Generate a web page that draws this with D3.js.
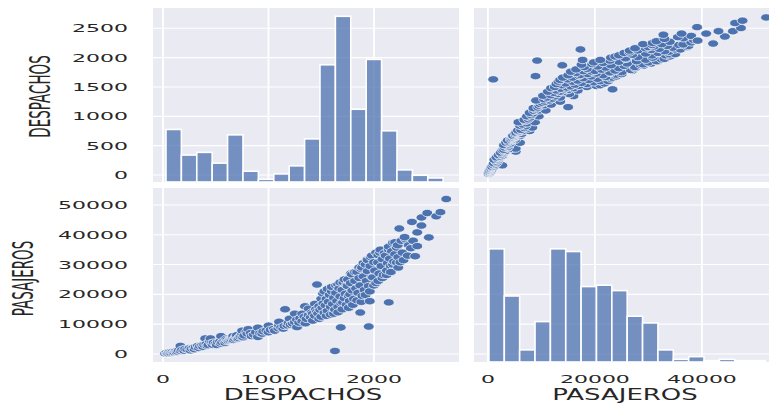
<!DOCTYPE html>
<html>
<head>
<meta charset="utf-8">
<script src="https://cdn.jsdelivr.net/npm/d3@7"></script>
<style>
  html, body { margin: 0; padding: 0; background: #ffffff; }
  svg { display: block; font-family: "DejaVu Sans", sans-serif; }
</style>
</head>
<body>
<svg id="chart" width="769" height="404"></svg>
<script>
// Variables of the pair grid
const variables = ["DESPACHOS", "PASAJEROS"];

// Tick labels
const despachosYTicks = [0, 500, 1000, 1500, 2000, 2500];
const despachosXTicks = [0, 1000, 2000];
const pasajerosYTicks = [0, 10000, 20000, 30000, 40000, 50000];
const pasajerosXTicks = [0, 20000, 40000];

// Histogram counts (18 equal-width bins each) and outer bin edges
const despachosCounts = [39, 20, 22, 14, 35, 8, 2, 6, 12, 32, 87, 123, 54, 91, 38, 9, 5, 3];
const despachosRange = [28, 2656];
const pasajerosCounts = [84, 49, 9, 30, 84, 82, 56, 57, 53, 34, 29, 9, 2, 4, 1, 2, 1, 1];
const pasajerosRange = [190, 51886];

// Observations: [DESPACHOS, PASAJEROS]
const vuelos = [
  [20,150],[35,300],[45,100],[50,200],[60,500],[70,250],[80,400],[90,700],[100,450],[110,600],
  [120,900],[130,650],[140,800],[150,1200],[165,2700],[170,1000],[180,1400],[200,1100],[210,1700],
  [230,1500],[250,1900],[260,1200],[270,1800],[290,2100],[300,1600],[310,2300],[330,2700],[340,2000],
  [350,2600],[370,2900],[380,2400],[390,3100],[400,5200],[410,3300],[420,2700],[430,3000],[445,4300],
  [450,5200],[460,3600],[470,3100],[480,3800],[500,3500],[510,3000],[520,4000],[540,4200],[550,3400],
  [550,6000],[560,3900],[580,4400],[590,3700],[600,4300],[600,5100],[610,4700],[620,4400],[630,4600],
  [640,4800],[650,5000],[660,5300],[665,6000],[670,4700],[680,5200],[690,5700],[700,5500],[700,6300],
  [710,5100],[720,5300],[730,5800],[740,6000],[750,6700],[750,7800],[760,5600],[770,6200],[790,7400],
  [800,6800],[808,8300],[830,7000],[840,6000],[860,6500],[880,7300],[900,5700],[900,8800],[920,7000],
  [940,6800],[950,7600],[980,7900],[1000,7300],[1000,9500],[1020,8100],[1050,8400],[1060,7800],
  [1093,8600],[1100,9600],[1100,10800],[1120,8900],[1140,8500],[1150,9400],[1157,15000],[1180,9600],
  [1190,10400],[1200,11800],[1210,9800],[1230,10200],[1250,10700],[1250,13500],[1270,9000],
  [1270,11500],[1290,10500],[1300,12000],[1320,11000],[1320,13500],[1340,12500],[1346,16000],
  [1350,10300],[1360,11800],[1380,13000],[1380,15200],[1400,12300],[1412,14000],[1420,13500],
  [1420,11200],[1440,12800],[1440,16800],[1450,15000],[1460,14200],[1460,23300],[1470,13600],
  [1480,16000],[1480,11800],[1490,14800],[1500,12500],[1500,18500],[1510,15500],[1517,20300],
  [1520,17000],[1530,13800],[1530,21000],[1540,16300],[1550,18500],[1550,12800],[1560,14500],
  [1560,21800],[1570,17500],[1580,19800],[1590,15800],[1590,13200],[1600,21000],[1600,22500],
  [1610,16800],[1620,18800],[1620,13500],[1630,1000],[1630,14900],[1640,20500],[1640,23000],
  [1650,17800],[1659,23300],[1660,15800],[1660,14000],[1670,22000],[1685,8900],[1680,19300],
  [1680,24000],[1690,17000],[1700,21500],[1700,15000],[1706,17300],[1710,24000],[1720,18700],
  [1720,25000],[1730,20200],[1740,16500],[1740,23000],[1750,22800],[1753,25000],[1760,19500],
  [1760,15500],[1770,17800],[1773,20000],[1780,23800],[1780,27000],[1790,26700],[1795,21300],
  [1800,16500],[1810,18500],[1820,24500],[1820,27500],[1830,22000],[1840,27500],[1840,18000],
  [1850,20500],[1860,25500],[1860,29000],[1870,13900],[1870,23000],[1880,28500],[1880,17500],
  [1886,29000],[1890,19500],[1900,26000],[1900,30500],[1910,21500],[1920,30000],[1920,19800],
  [1930,24500],[1934,31700],[1940,27800],[1940,31500],[1950,9200],[1950,22800],[1960,17700],
  [1960,21000],[1965,29500],[1970,32500],[1980,25800],[1980,33000],[1990,25700],[2000,30800],
  [2000,23000],[2010,28000],[2020,23800],[2020,34000],[2038,30700],[2040,33200],[2040,24500],
  [2050,27000],[2057,34000],[2060,35000],[2070,29500],[2080,31800],[2080,25500],[2090,26500],
  [2100,33800],[2110,33000],[2120,26500],[2123,28000],[2130,30500],[2140,17300],[2140,35000],
  [2140,36000],[2150,32000],[2160,29500],[2160,27500],[2170,34500],[2180,37300],[2180,30000],
  [2190,31000],[2200,33500],[2200,37500],[2216,35700],[2216,30700],[2230,32500],[2230,29000],
  [2250,30800],[2225,36500],[2260,38000],[2270,34000],[2280,31500],[2300,38500],[2320,33000],
  [2330,36500],[2350,35500],[2370,38000],[2290,39200],[2240,42100],[2390,32800],[2410,36200],
  [2410,40800],[2520,39100],[2360,44300],[2450,43100],[2450,45800],[2505,47300],[2590,46200],
  [2630,47600],[2685,52000]
];

const svg = d3.select("#chart");

// Panel geometry
const colX = [[153, 459], [474, 780]];
const rowY = [[8, 182], [188, 362]];

// Scales shared by column (x) and row (y)
const xScales = [
  d3.scaleLinear().domain([-95, 2806]).range(colX[0]),
  d3.scaleLinear().domain([-2600, 54600]).range(colX[1])
];
const yScales = [
  d3.scaleLinear().domain([-119, 2846]).range([rowY[0][1], rowY[0][0]]),
  d3.scaleLinear().domain([-2700, 55700]).range([rowY[1][1], rowY[1][0]])
];
const xTicks = [despachosXTicks, pasajerosXTicks];
const yTicks = [despachosYTicks, pasajerosYTicks];

// Diagonal histograms share one count axis
const maxCount = d3.max(despachosCounts.concat(pasajerosCounts));
const countScales = rowY.map(r => d3.scaleLinear().domain([0, maxCount * 1.05]).range([r[1], r[0]]));

const blue = "#4C72B0";
const textColor = "#262626";
const defs = svg.append("defs");

for (let r = 0; r < 2; r++) {
  for (let c = 0; c < 2; c++) {
    const x = xScales[c], y = yScales[r];
    const [x0, x1] = colX[c], [y0, y1] = rowY[r];
    const id = `clip-${r}-${c}`;
    defs.append("clipPath").attr("id", id)
      .append("rect").attr("x", x0).attr("y", y0).attr("width", x1 - x0).attr("height", y1 - y0);

    const g = svg.append("g").attr("clip-path", `url(#${id})`);
    g.append("rect").attr("x", x0).attr("y", y0).attr("width", x1 - x0).attr("height", y1 - y0)
      .attr("fill", "#EAEAF2");

    // grid
    g.selectAll(".vg").data(xTicks[c]).join("line")
      .attr("x1", d => x(d)).attr("x2", d => x(d)).attr("y1", y0).attr("y2", y1)
      .attr("stroke", "#ffffff").attr("stroke-width", 1.8);
    g.selectAll(".hg").data(yTicks[r]).join("line")
      .attr("x1", x0).attr("x2", x1).attr("y1", d => y(d)).attr("y2", d => y(d))
      .attr("stroke", "#ffffff").attr("stroke-width", 1.1);

    if (r === c) {
      const counts = r === 0 ? despachosCounts : pasajerosCounts;
      const range = r === 0 ? despachosRange : pasajerosRange;
      const n = counts.length;
      const bins = counts.map((cnt, i) => ({
        lo: range[0] + (range[1] - range[0]) * i / n,
        hi: range[0] + (range[1] - range[0]) * (i + 1) / n,
        cnt
      }));
      const cy = countScales[r];
      g.selectAll(".bar").data(bins).join("rect")
        .attr("x", d => x(d.lo)).attr("width", d => x(d.hi) - x(d.lo))
        .attr("y", d => cy(d.cnt)).attr("height", d => cy(0) - cy(d.cnt))
        .attr("fill", blue).attr("fill-opacity", 0.75)
        .attr("stroke", "#ffffff").attr("stroke-width", 1.6);
    } else {
      // off-diagonal scatter: column variable on x, row variable on y
      g.selectAll(".pt").data(vuelos).join("ellipse")
        .attr("cx", d => x(d[c])).attr("cy", d => y(d[r]))
        .attr("rx", 5.4).attr("ry", 3.7)
        .attr("fill", blue).attr("stroke", "#ffffff").attr("stroke-width", 0.7);
    }
  }
}

// Horizontally stretched text helper
function label(x, y, txt, size, sx, anchor, rotate) {
  return svg.append("text")
    .attr("transform", `translate(${x},${y}) scale(${sx},1)` + (rotate ? " rotate(-90)" : ""))
    .attr("text-anchor", anchor)
    .attr("fill", textColor)
    .style("font-size", size + "px")
    .text(txt);
}

// y tick labels
for (let r = 0; r < 2; r++) {
  yTicks[r].forEach(v => {
    label(128, yScales[r](v), String(v), 11, 2.0, "end").attr("dy", "0.36em");
  });
}
// x tick labels
for (let c = 0; c < 2; c++) {
  xTicks[c].forEach(v => {
    label(xScales[c](v), 383, String(v), 11, 2.0, "middle");
  });
}

// axis titles
label(303, 400, variables[0], 15, 1.73, "middle");
label(625, 400, variables[1], 15, 1.73, "middle");
label(40, 96.5, variables[0], 13.5, 2.1, "middle", true).attr("y", 4.9);
label(23, 278.5, variables[1], 13.5, 2.1, "middle", true).attr("y", 4.9);
</script>
</body>
</html>
